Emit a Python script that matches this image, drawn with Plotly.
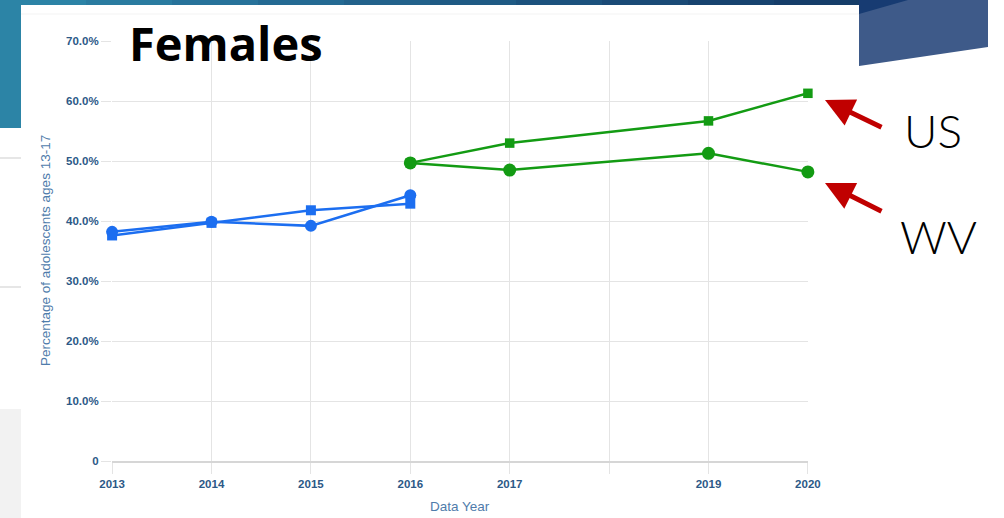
import plotly.graph_objects as go

# Survey years and rates (% of females aged 13-17)
years_early = [2013, 2014, 2015, 2016]
wv_early = [38.2, 39.9, 39.2, 44.3]
us_early = [37.6, 39.7, 41.8, 42.9]

years_late = [2016, 2017, 2019, 2020]
wv_late = [49.7, 48.5, 51.3, 48.2]
us_late = [49.7, 53.0, 56.7, 61.3]

x_ticks = [2013, 2014, 2015, 2016, 2017, 2018, 2019, 2020]
x_tick_text = ["2013", "2014", "2015", "2016", "2017", "", "2019", "2020"]
y_ticks = [0, 10, 20, 30, 40, 50, 60, 70]
y_tick_text = ["0", "10.0%", "20.0%", "30.0%", "40.0%", "50.0%", "60.0%", "70.0%"]

BLUE = "#1c6ef0"
GREEN = "#139b13"
TICK_COLOR = "#2c5987"
TITLE_COLOR = "#4f7cab"
GRID = "#e4e4e4"

W, H = 1004, 518
L, R, T, B = 112, 808, 41, 461


def px(x):
    return (x - L) / (R - L)


def py(y):
    return (B - y) / (B - T)


fig = go.Figure()

fig.add_trace(go.Scatter(x=years_early, y=wv_early, mode="lines+markers",
                         line=dict(color=BLUE, width=2.5), cliponaxis=False,
                         marker=dict(symbol="circle", size=12, color=BLUE)))
fig.add_trace(go.Scatter(x=years_early, y=us_early, mode="lines+markers",
                         line=dict(color=BLUE, width=2.5), cliponaxis=False,
                         marker=dict(symbol="square", size=10, color=BLUE)))
fig.add_trace(go.Scatter(x=years_late, y=us_late, mode="lines+markers",
                         line=dict(color=GREEN, width=2.5), cliponaxis=False,
                         marker=dict(symbol="square", size=9.5, color=GREEN)))
fig.add_trace(go.Scatter(x=years_late, y=wv_late, mode="lines+markers",
                         line=dict(color=GREEN, width=2.5), cliponaxis=False,
                         marker=dict(symbol="circle", size=13, color=GREEN)))

shapes = []

# slide decoration: top gradient band
band_colors = ["#2c83a6", "#2a7ba0", "#27729a", "#246a93", "#22628b",
               "#1f5a84", "#1c527d", "#1a4a76", "#17436f", "#153d69"]
n = len(band_colors)
for i, c in enumerate(band_colors):
    x0 = 860 * i / n
    x1 = 860 * (i + 1) / n + 1
    shapes.append(dict(type="rect", xref="paper", yref="paper",
                       x0=px(x0), x1=px(x1), y0=py(5), y1=py(0),
                       fillcolor=c, line=dict(width=0), layer="below"))

# left edge blocks
shapes.append(dict(type="rect", xref="paper", yref="paper",
                   x0=px(0), x1=px(21), y0=py(128), y1=py(0),
                   fillcolor="#2c84a6", line=dict(width=0), layer="below"))
shapes.append(dict(type="rect", xref="paper", yref="paper",
                   x0=px(0), x1=px(21), y0=py(518), y1=py(409),
                   fillcolor="#f2f2f2", line=dict(width=0), layer="below"))
for yy in (158, 287):
    shapes.append(dict(type="line", xref="paper", yref="paper",
                       x0=px(0), x1=px(21), y0=py(yy), y1=py(yy),
                       line=dict(color="#e6e6e6", width=2), layer="below"))

# faint panel rule under the top band
shapes.append(dict(type="line", xref="paper", yref="paper",
                   x0=px(21), x1=px(859), y0=py(14), y1=py(14),
                   line=dict(color="#f3f3f3", width=1), layer="below"))


# right corner block
def path(points):
    return "M " + " L ".join(f"{px(a)},{py(b)}" for a, b in points) + " Z"


shapes.append(dict(type="path", xref="paper", yref="paper",
                   path=path([(859, 0), (988, 0), (988, 47), (859, 66)]),
                   fillcolor="#3e5a89", line=dict(width=0), layer="below"))
shapes.append(dict(type="path", xref="paper", yref="paper",
                   path=path([(859, 0), (908, 0), (859, 14)]),
                   fillcolor="#173b72", line=dict(width=0), layer="below"))

annotations = [
    dict(text="<b>Females</b>", xref="paper", yref="paper",
         x=px(127), y=py(43), xanchor="left", yanchor="middle",
         showarrow=False,
         font=dict(family="Open Sans", size=47, color="#000000")),
    dict(text="US", xref="paper", yref="paper",
         x=px(902), y=py(130), xanchor="left", yanchor="middle",
         showarrow=False,
         font=dict(family="Lato", size=46, color="#000000", weight=300)),
    dict(text="WV", xref="paper", yref="paper",
         x=px(898), y=py(236), xanchor="left", yanchor="middle",
         showarrow=False,
         font=dict(family="Lato", size=46, color="#000000", weight=300)),
    dict(text="", xref="paper", yref="paper", x=px(825), y=py(100),
         showarrow=True, ax=58, ay=28, arrowhead=2, arrowsize=1.15,
         arrowwidth=5, arrowcolor="#c00000", standoff=0),
    dict(text="", xref="paper", yref="paper", x=px(825), y=py(183),
         showarrow=True, ax=58, ay=29, arrowhead=2, arrowsize=1.15,
         arrowwidth=5, arrowcolor="#c00000", standoff=0),
    dict(text="Data Year", xref="paper", yref="paper",
         x=0.5, y=py(506), xanchor="center", yanchor="middle",
         showarrow=False,
         font=dict(family="Arial, Liberation Sans", size=13.5, color=TITLE_COLOR)),
    dict(text="Percentage of adolescents ages 13-17", xref="paper", yref="paper",
         x=px(45), y=0.5, xanchor="center", yanchor="middle", textangle=-90,
         showarrow=False,
         font=dict(family="Arial, Liberation Sans", size=13.5, color=TITLE_COLOR)),
]

fig.update_layout(
    width=W, height=H, autosize=False,
    margin=dict(l=L, r=W - R, t=T, b=H - B, pad=0),
    paper_bgcolor="#ffffff",
    plot_bgcolor="rgba(0,0,0,0)",
    showlegend=False,
    shapes=shapes,
    annotations=annotations,
)

fig.update_xaxes(
    range=[2012.999, 2020.001], tickmode="array", tickvals=x_ticks,
    ticktext=x_tick_text, showgrid=True, gridcolor=GRID, gridwidth=1,
    ticks="outside", ticklen=11, tickcolor=GRID,
    showline=True, linecolor="#d6d6d6", linewidth=2, zeroline=False,
    tickfont=dict(family="Arial, Liberation Sans", size=11.5, color=TICK_COLOR,
                  weight="bold"),
)
fig.update_yaxes(
    range=[0, 70.02], tickmode="array", tickvals=y_ticks, ticktext=y_tick_text,
    showgrid=True, gridcolor=GRID, gridwidth=1,
    ticks="outside", ticklen=10, tickcolor=GRID,
    showline=False, zeroline=False,
    tickfont=dict(family="Arial, Liberation Sans", size=11.5, color=TICK_COLOR,
                  weight="bold"),
)

fig.write_html("out.html")
